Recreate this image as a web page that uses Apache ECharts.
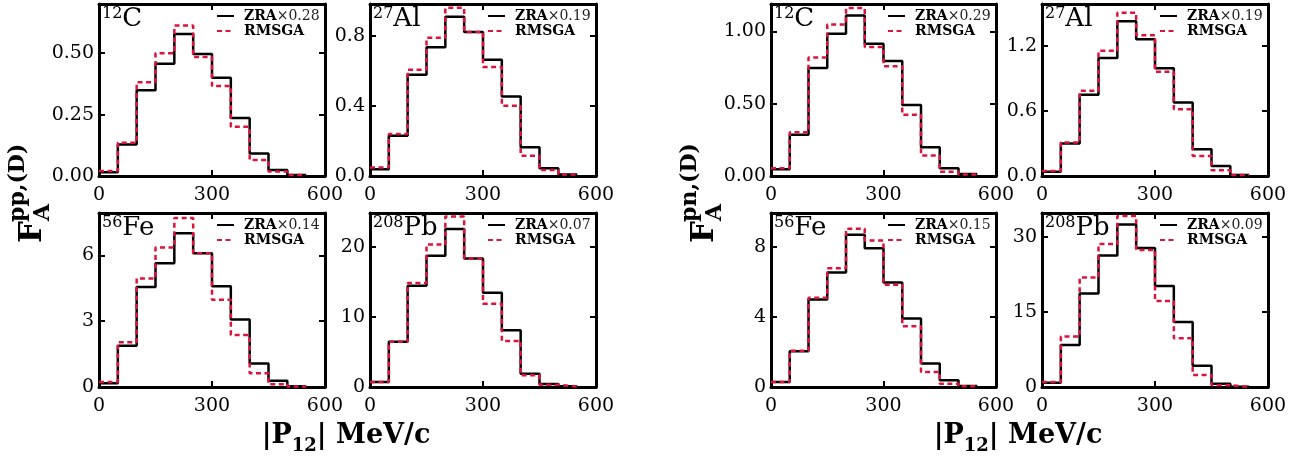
<!DOCTYPE html>
<html><head><meta charset="utf-8">
<script src="https://cdn.jsdelivr.net/npm/echarts@6/dist/echarts.min.js"></script>
<style>html,body{margin:0;padding:0;background:#fff}#c{width:1308px;height:458px}</style>
</head><body><div id="c"></div>
<script>
// ---------- data ----------
const binEdges = [0, 50, 100, 150, 200, 250, 300, 350, 400, 450, 500, 550];
const xTicks = [0, 300, 600];

const ppC_ZRA    = [0.015, 0.128, 0.349, 0.457, 0.578, 0.497, 0.400, 0.236, 0.092, 0.024, 0.004];
const ppC_RMSGA  = [0.020, 0.135, 0.382, 0.500, 0.612, 0.484, 0.366, 0.200, 0.065, 0.018, 0.004];
const ppAl_ZRA   = [0.038, 0.229, 0.577, 0.733, 0.907, 0.821, 0.663, 0.453, 0.164, 0.044, 0.008];
const ppAl_RMSGA = [0.048, 0.240, 0.606, 0.787, 0.958, 0.821, 0.621, 0.400, 0.116, 0.034, 0.008];
const ppFe_ZRA   = [0.17, 1.88, 4.56, 5.64, 7.01, 6.09, 4.59, 3.08, 1.07, 0.28, 0.03];
const ppFe_RMSGA = [0.23, 2.04, 4.95, 6.36, 7.70, 6.09, 3.98, 2.37, 0.63, 0.12, 0.02];
const ppPb_ZRA   = [0.72, 6.46, 14.5, 18.8, 22.6, 18.4, 13.5, 8.13, 1.90, 0.43, 0.10];
const ppPb_RMSGA = [0.72, 6.46, 14.9, 20.4, 24.4, 18.4, 11.9, 6.60, 1.67, 0.33, 0.05];

const pnC_ZRA    = [0.046, 0.286, 0.748, 0.984, 1.110, 0.915, 0.796, 0.492, 0.199, 0.053, 0.014];
const pnC_RMSGA  = [0.053, 0.302, 0.819, 1.048, 1.162, 0.892, 0.760, 0.423, 0.142, 0.030, 0.011];
const pnAl_ZRA   = [0.040, 0.300, 0.750, 1.090, 1.430, 1.265, 0.997, 0.679, 0.247, 0.093, 0.009];
const pnAl_RMSGA = [0.046, 0.309, 0.787, 1.157, 1.510, 1.300, 0.963, 0.617, 0.185, 0.052, 0.009];
const pnFe_ZRA   = [0.29, 2.05, 5.01, 6.55, 8.71, 7.94, 5.97, 3.92, 1.34, 0.38, 0.06];
const pnFe_RMSGA = [0.29, 2.07, 5.11, 6.79, 9.05, 8.38, 5.84, 3.48, 0.86, 0.19, 0.04];
const pnPb_ZRA   = [0.87, 8.4, 18.7, 26.3, 32.5, 27.8, 20.2, 13.0, 4.24, 0.67, 0.07];
const pnPb_RMSGA = [1.0, 10.1, 21.9, 28.6, 34.2, 27.4, 17.2, 9.75, 2.42, 0.34, 0.07];

const nucleusMass = ['12', '27', '56', '208', '12', '27', '56', '208'];
const nucleusSym  = ['C', 'Al', 'Fe', 'Pb', 'C', 'Al', 'Fe', 'Pb'];
const zraScale    = ['0.28', '0.19', '0.14', '0.07', '0.29', '0.19', '0.15', '0.09'];
const zraData     = [ppC_ZRA, ppAl_ZRA, ppFe_ZRA, ppPb_ZRA, pnC_ZRA, pnAl_ZRA, pnFe_ZRA, pnPb_ZRA];
const rmsgaData   = [ppC_RMSGA, ppAl_RMSGA, ppFe_RMSGA, ppPb_RMSGA, pnC_RMSGA, pnAl_RMSGA, pnFe_RMSGA, pnPb_RMSGA];
const yMax        = [0.70, 0.98, 7.93, 24.9, 1.19, 1.59, 9.95, 34.8];
const yStep       = [0.25, 0.4, 3, 10, 0.5, 0.6, 4, 15];
const yDecimals   = [2, 1, 0, 0, 2, 1, 0, 0];

// ---------- layout ----------
const layout = [
  {left: 99,   top: 4,   width: 226, height: 172},
  {left: 370,  top: 4,   width: 226, height: 172},
  {left: 99,   top: 213, width: 226, height: 174},
  {left: 370,  top: 213, width: 226, height: 174},
  {left: 771,  top: 4,   width: 225, height: 172},
  {left: 1042, top: 4,   width: 226, height: 172},
  {left: 771,  top: 213, width: 225, height: 174},
  {left: 1042, top: 213, width: 226, height: 174}
];
const FONT = 'DejaVu Serif';
const RED = '#dc143c';
const TICKFONT = 19;

const grids = [], xAxes = [], yAxes = [], series = [], legends = [], titles = [];
const axisLine = {show: true, onZero: false, lineStyle: {color: '#000', width: 3}};
const axisTick = {show: true, inside: true, length: 6, lineStyle: {color: '#000', width: 2}};

function toPoints(vals) {
  return binEdges.map((x, i) => [x, vals[Math.min(i, vals.length - 1)]]);
}

layout.forEach((g, i) => {
  grids.push({left: g.left, top: g.top, width: g.width, height: g.height, show: false});
  const xBase = {type: 'value', gridIndex: i, min: xTicks[0], max: xTicks[xTicks.length - 1],
    interval: xTicks[1] - xTicks[0], axisLine, axisTick, splitLine: {show: false}};
  xAxes.push(Object.assign({}, xBase, {position: 'bottom',
    axisLabel: {show: true, fontFamily: FONT, fontSize: TICKFONT, color: '#000', margin: 10}}));
  xAxes.push(Object.assign({}, xBase, {position: 'top', axisLabel: {show: false}}));
  const st = yStep[i], dec = yDecimals[i];
  const yBase = {type: 'value', gridIndex: i, min: 0, max: yMax[i], interval: st,
    axisLine, axisTick, splitLine: {show: false}};
  yAxes.push(Object.assign({}, yBase, {position: 'left',
    axisLabel: {show: true, showMaxLabel: false, fontFamily: FONT, fontSize: TICKFONT, color: '#000', margin: 5,
      formatter: v => { const k = v / st; return Math.abs(k - Math.round(k)) > 1e-6 ? '' : v.toFixed(dec); }}}));
  yAxes.push(Object.assign({}, yBase, {position: 'right', axisLabel: {show: false}}));

  const zname = 'ZRA×' + zraScale[i];
  series.push({type: 'line', name: zname, xAxisIndex: 2 * i, yAxisIndex: 2 * i,
    data: toPoints(zraData[i]), step: 'end', symbol: 'none', showSymbol: false,
    lineStyle: {color: '#000', width: 2.5}, itemStyle: {color: '#000'}, z: 2});
  series.push({type: 'line', name: 'RMSGA', xAxisIndex: 2 * i, yAxisIndex: 2 * i,
    data: toPoints(rmsgaData[i]), step: 'end', symbol: 'none', showSymbol: false,
    lineStyle: {color: RED, width: 2.5, type: [5, 3.5]}, itemStyle: {color: RED}, z: 3});

  legends.push({orient: 'vertical', left: g.left + g.width - 109, top: g.top + 5,
    itemWidth: 17, itemHeight: 14, itemGap: 1, padding: 0, selectedMode: false,
    itemStyle: {opacity: 0},
    data: [zname, 'RMSGA'],
    formatter: n => n.indexOf('ZRA') === 0 ? '{b|ZRA}{n|' + n.slice(3) + '}' : '{b|' + n + '}',
    textStyle: {fontFamily: FONT, fontSize: 14, color: '#000',
      rich: {b: {fontFamily: FONT, fontSize: 14, fontWeight: 'bold', color: '#000', padding: [0, 0, 0, 5]},
             n: {fontFamily: FONT, fontSize: 14, color: '#222'}}}});

  titles.push({text: '{s|' + nucleusMass[i] + '}{e|' + nucleusSym[i] + '}',
    left: g.left + 3, top: g.top + 2, padding: 0,
    textStyle: {fontWeight: 'normal', rich: {
      s: {fontFamily: FONT, fontSize: 16, fontWeight: 'normal', color: '#000', verticalAlign: 'top'},
      e: {fontFamily: FONT, fontSize: 26, fontWeight: 'normal', color: '#000', verticalAlign: 'bottom'}}}});
});

function yLabel(x, sup) {
  return {type: 'group', x: x, y: 243, rotation: Math.PI / 2, children: [
    {type: 'text', x: 0, y: -10, style: {text: 'F', font: 'bold 31px "DejaVu Serif"', fill: '#000',
      textAlign: 'left', align: 'left', textVerticalAlign: 'middle', verticalAlign: 'middle'}},
    {type: 'text', x: 21, y: -25, style: {text: sup, font: 'bold 22px "DejaVu Serif"', fill: '#000',
      textAlign: 'left', align: 'left', textVerticalAlign: 'middle', verticalAlign: 'middle'}},
    {type: 'text', x: 22, y: 0, style: {text: 'A', font: 'bold 22px "DejaVu Serif"', fill: '#000',
      textAlign: 'left', align: 'left', textVerticalAlign: 'middle', verticalAlign: 'middle'}}
  ]};
}
function xLabel(cx) {
  return {type: 'text', x: cx, y: 439, style: {
    text: '{a||P}{s|12}{a|| MeV/c}', textAlign: 'center', align: 'center',
    textVerticalAlign: 'middle', verticalAlign: 'middle', fill: '#000',
    rich: {a: {fontFamily: FONT, fontSize: 27, fontWeight: 'bold', color: '#000', verticalAlign: 'bottom', padding: [0, 0, 6, 0]},
           s: {fontFamily: FONT, fontSize: 18, fontWeight: 'bold', color: '#000', verticalAlign: 'bottom'}}}};
}

const chart = echarts.init(document.getElementById('c'), null, {renderer: 'canvas'});
chart.setOption({
  animation: false,
  backgroundColor: '#fff',
  title: titles,
  legend: legends,
  grid: grids,
  xAxis: xAxes,
  yAxis: yAxes,
  series: series,
  graphic: [yLabel(43, 'pp,(D)'), yLabel(715, 'pn,(D)'), xLabel(346), xLabel(1018)]
});
</script></body></html>
